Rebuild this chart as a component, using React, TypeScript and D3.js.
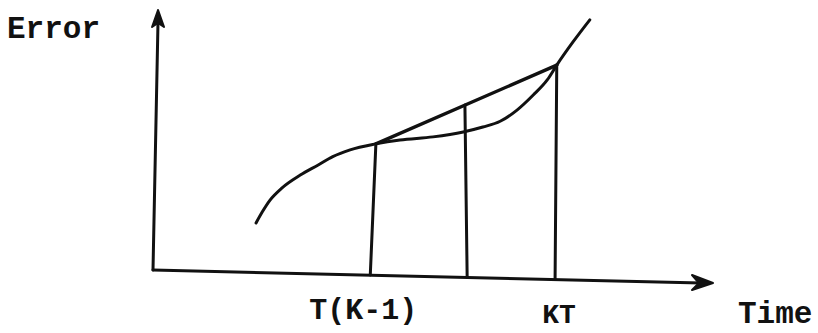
import React from "react";
import * as d3 from "d3";

// Error curve (time, error) in arbitrary units
const curveTime = [18.4, 19.5, 20.9, 23.0, 26.3, 29.5, 32.1, 35.2, 39.8, 44.1, 50.0, 55.4, 58.9, 62.0, 65.0, 67.9, 70.4, 72.1, 75.0, 78.0];
const curveError = [18.1, 22.3, 26.9, 31.5, 36.5, 40.4, 43.6, 46.2, 48.5, 50.0, 51.2, 53.1, 55.0, 57.2, 61.5, 67.3, 73.1, 78.8, 87.7, 96.2];

// chord between sample instants
const chordTime = [39.8, 72.1];
const chordError = [48.5, 78.8];

// vertical lines: top time, bottom time
const vertTopTime = [39.8, 55.7, 72.1];
const vertBottomTime = [38.8, 56.1, 71.8];

// tick labels
const tickLabels = ["T(K-1)", "", "KT"];
const yAxisLabel = "Error";
const xAxisLabel = "Time";

// axis geometry (data units): x-axis drops slightly (scanned drawing)
const xAxisEnd = [100, -5];
const yAxisEnd = [0.9, 100];

const W = 818;
const H = 333;

export default function App() {
  const x = d3.scaleLinear().domain([0, 100]).range([153, 713]);
  const y = d3.scaleLinear().domain([0, 100]).range([270, 10]);

  const axisY = (t: number) => (xAxisEnd[1] * t) / xAxisEnd[0];
  const chordAt = (t: number) =>
    chordError[0] + ((t - chordTime[0]) / (chordTime[1] - chordTime[0])) * (chordError[1] - chordError[0]);

  const curvePts: [number, number][] = curveTime.map((t, i) => [x(t), y(curveError[i])]);
  const line = d3.line().curve(d3.curveMonotoneX);
  const curvePath = line(curvePts) || "";

  const curveAt = (t: number) => {
    const interp = d3.scaleLinear().domain(curveTime).range(curveError);
    return interp(t);
  };

  const verts = vertTopTime.map((t, i) => {
    const topE = Math.max(chordAt(t), curveAt(t));
    const bt = vertBottomTime[i];
    return { x1: x(t), y1: y(topE), x2: x(bt), y2: y(axisY(bt)) };
  });

  const ox = x(0), oy = y(0);
  const xex = x(xAxisEnd[0]), xey = y(xAxisEnd[1]);
  const yex = x(yAxisEnd[0]), yey = y(yAxisEnd[1]);

  const xArrow = `M${xex},${xey} L${xex - 21},${xey - 8} L${xex - 14},${xey} L${xex - 21},${xey + 7} Z`;
  const yArrow = `M${yex},${yey} L${yex - 6},${yey + 17} L${yex},${yey + 13} L${yex + 6},${yey + 17} Z`;

  const ink = "#111";
  const font = "'Liberation Mono', 'DejaVu Sans Mono', monospace";

  return (
    <svg
      width={W}
      height={H}
      viewBox={`0 0 ${W} ${H}`}
      style={{ position: "absolute", left: 0, top: 0, background: "#fff" }}
    >
      <rect x={0} y={0} width={W} height={H} fill="#fff" />
      {/* axes */}
      <line x1={ox} y1={oy} x2={xex - 12} y2={xey} stroke={ink} strokeWidth={3} strokeLinecap="round" />
      <line x1={ox} y1={oy} x2={yex} y2={yey + 10} stroke={ink} strokeWidth={3} strokeLinecap="round" />
      <path d={xArrow} fill={ink} stroke={ink} strokeWidth={2} strokeLinejoin="round" />
      <path d={yArrow} fill={ink} stroke={ink} strokeWidth={2} strokeLinejoin="round" />

      {/* error curve */}
      <path d={curvePath} fill="none" stroke={ink} strokeWidth={3} strokeLinecap="round" strokeLinejoin="round" />
      {/* chord */}
      <line
        x1={x(chordTime[0])}
        y1={y(chordError[0])}
        x2={x(chordTime[1])}
        y2={y(chordError[1])}
        stroke={ink}
        strokeWidth={3.4}
        strokeLinecap="round"
      />
      {/* verticals */}
      {verts.map((v, i) => (
        <line key={i} x1={v.x1} y1={v.y1} x2={v.x2} y2={v.y2} stroke={ink} strokeWidth={3} strokeLinecap="round" />
      ))}

      {/* labels */}
      <text x={7} y={38} fontFamily={font} fontWeight="bold" fontSize={31} fill={ink}>
        {yAxisLabel}
      </text>
      {tickLabels.map((lab, i) =>
        lab ? (
          <text
            key={i}
            x={x(vertBottomTime[i]) + (i === 0 ? -7 : 4)}
            y={i === 0 ? 319 : 323}
            textAnchor="middle"
            fontFamily={font}
            fontWeight="bold"
            fontSize={i === 0 ? 30 : 28}
            fill={ink}
          >
            {lab}
          </text>
        ) : null
      )}
      <text x={738} y={323} fontFamily={font} fontWeight="bold" fontSize={31} fill={ink}>
        {xAxisLabel}
      </text>
    </svg>
  );
}
